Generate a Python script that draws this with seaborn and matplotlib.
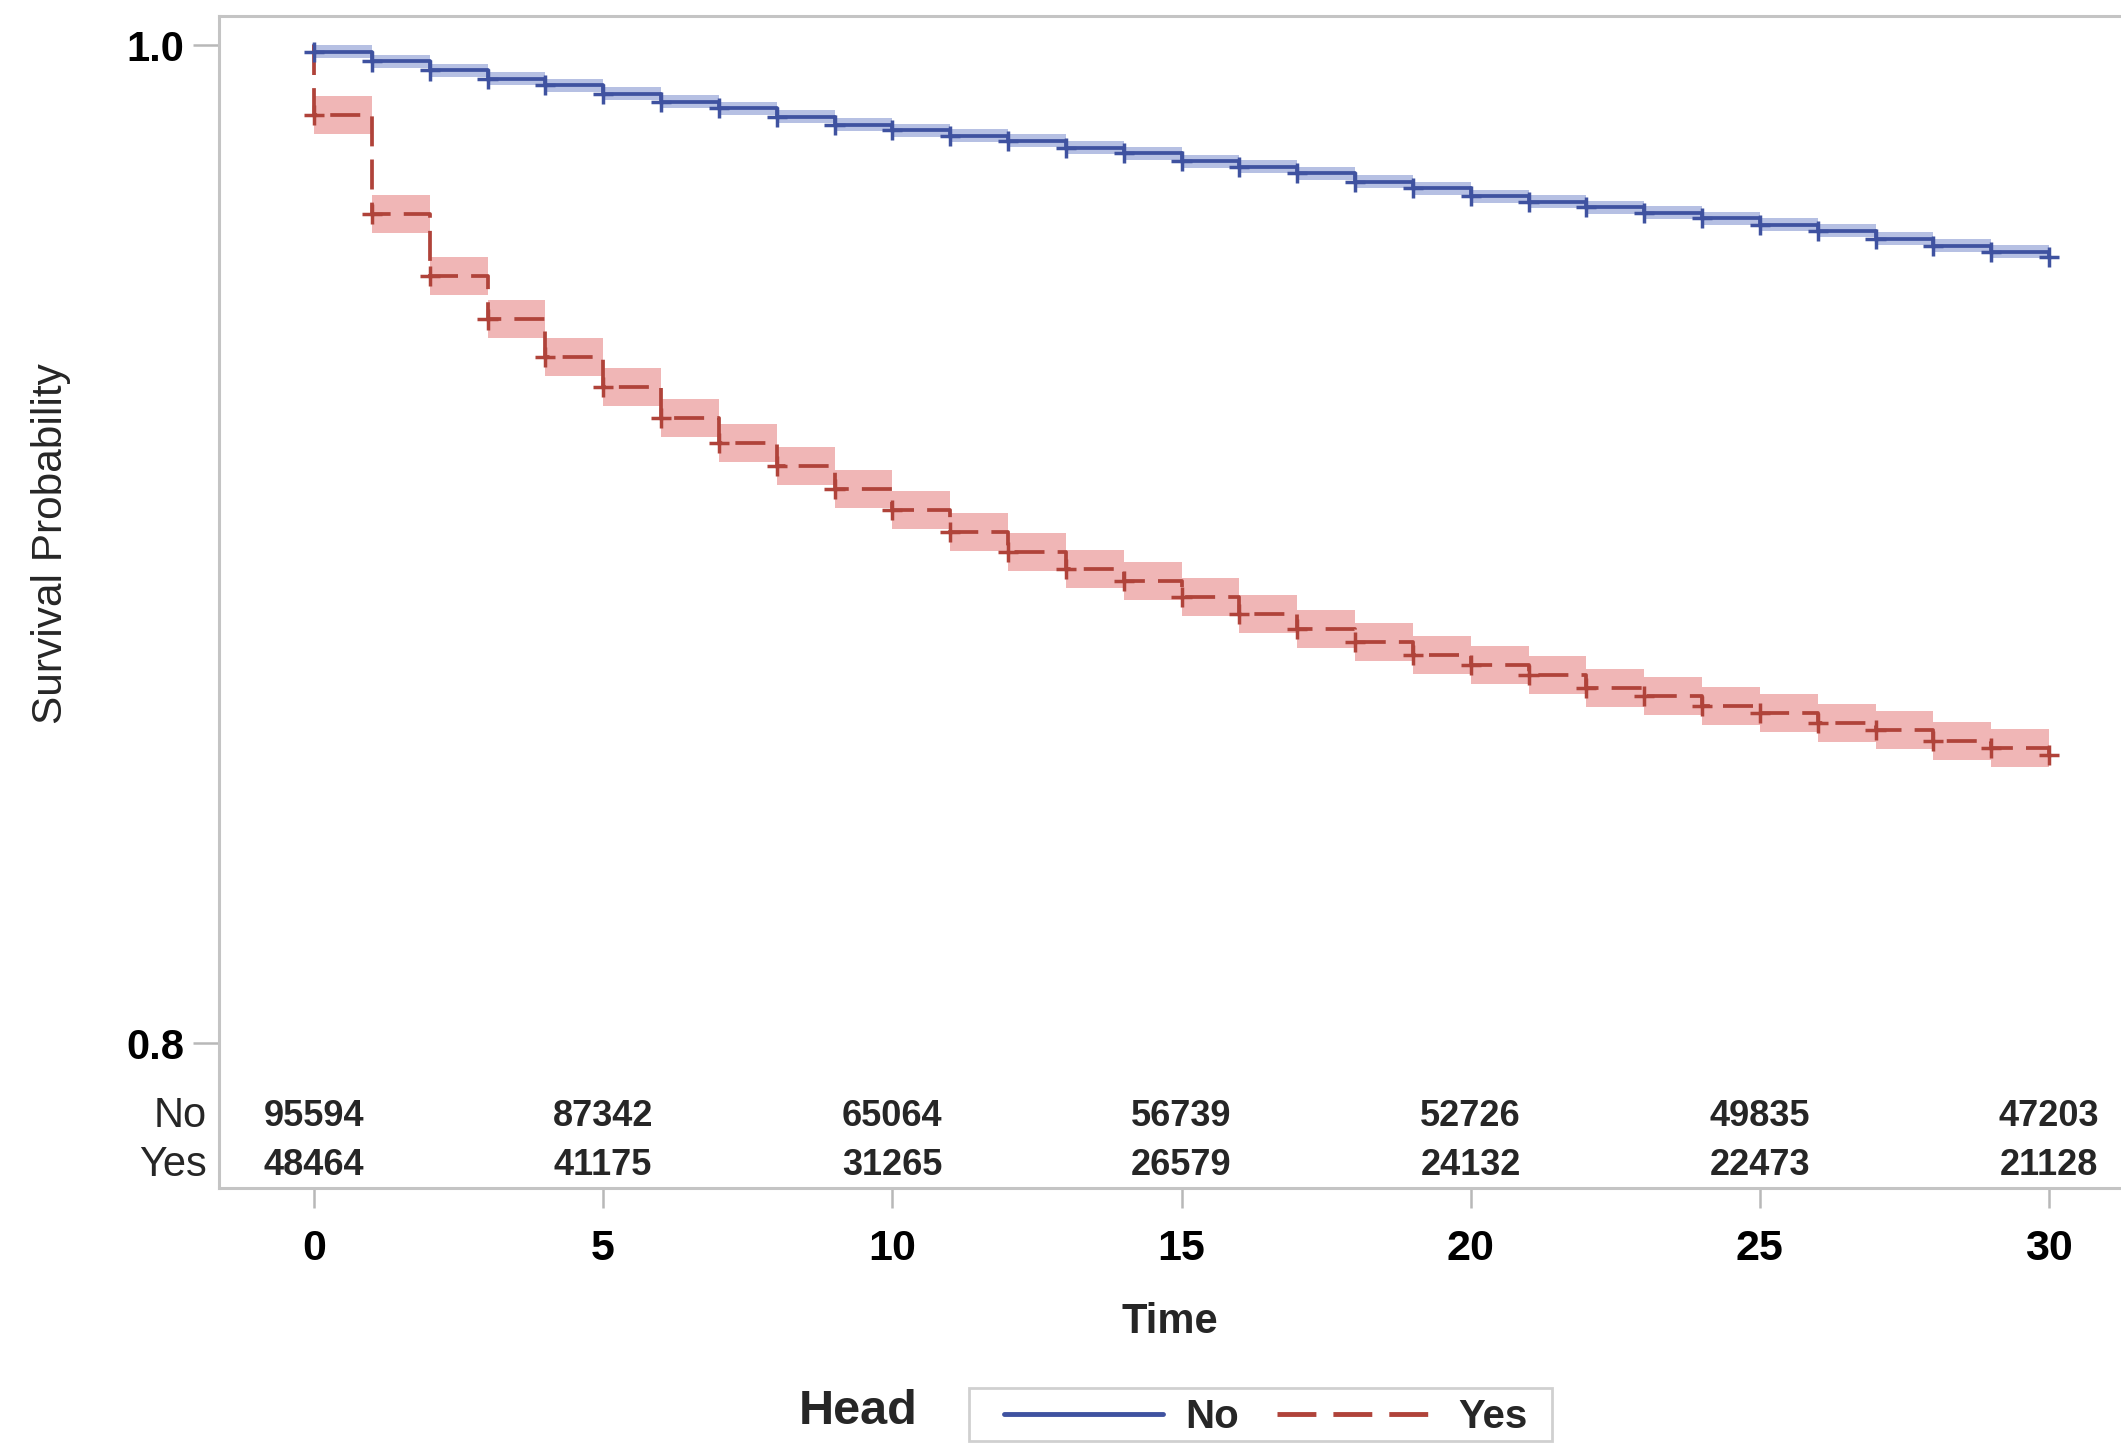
import numpy as np
import pandas as pd
import matplotlib
matplotlib.use("Agg")
import matplotlib.pyplot as plt
from matplotlib.patches import Rectangle
import seaborn as sns

# ---------------- data ----------------
times = list(range(0, 31))
surv_no = [0.9986, 0.9967, 0.9949, 0.9932, 0.9919, 0.9902, 0.9886, 0.9873, 0.9856, 0.9840,
           0.9829, 0.9818, 0.9808, 0.9794, 0.9783, 0.9767, 0.9756, 0.9743, 0.9726, 0.9713,
           0.9697, 0.9686, 0.9675, 0.9664, 0.9653, 0.9640, 0.9628, 0.9612, 0.9598, 0.9586,
           0.9576]
surv_yes = [0.9859, 0.9661, 0.9537, 0.9450, 0.9374, 0.9314, 0.9252, 0.9203, 0.9157, 0.9111,
            0.9068, 0.9024, 0.8984, 0.8950, 0.8926, 0.8893, 0.8859, 0.8830, 0.8803, 0.8778,
            0.8757, 0.8738, 0.8711, 0.8695, 0.8675, 0.8662, 0.8642, 0.8627, 0.8605, 0.8591,
            0.8578]
ci_half = {"No": 0.0013, "Yes": 0.0038}
groups = ["No", "Yes"]

risk_times = [0, 5, 10, 15, 20, 25, 30]
risk_no = [95594, 87342, 65064, 56739, 52726, 49835, 47203]
risk_yes = [48464, 41175, 31265, 26579, 24132, 22473, 21128]

# ---------------- style ----------------
sns.set_theme(style="white")
plt.rcParams['font.family'] = ['Liberation Sans', 'DejaVu Sans']

W, H = 2121, 1443
fig = plt.figure(figsize=(W / 100, H / 100), dpi=100)
ax_l, ax_r, ax_t, ax_b = 219, 2121, 16, 1188
ax = fig.add_axes([ax_l / W, 1 - ax_b / H, (ax_r - ax_l) / W, (ax_b - ax_t) / H])

line_col = {"No": "#3f52a0", "Yes": "#b0433a"}
band_col = {"No": "#aab5de", "Yes": "#eea9a9"}

surv = {"No": surv_no, "Yes": surv_yes}
frames = []
for g in groups:
    frames.append(pd.DataFrame({"Time": [0] + times, "Survival": [1.0] + surv[g], "Head": g}))
df = pd.concat(frames, ignore_index=True)

mk = pd.concat([pd.DataFrame({"Time": times, "Survival": surv[g], "Head": g}) for g in groups],
               ignore_index=True)

# confidence bands
for g in groups:
    s = np.array(surv[g])
    ax.fill_between(times, s - ci_half[g], s + ci_half[g], step="post",
                    color=band_col[g], alpha=0.85, linewidth=0, zorder=1)

sns.lineplot(data=df, x="Time", y="Survival", hue="Head", style="Head",
             palette=line_col, dashes={"No": "", "Yes": (8, 3.5)},
             drawstyle="steps-post", estimator=None, sort=False,
             linewidth=2.7, ax=ax, legend=True, zorder=3)

sns.scatterplot(data=mk, x="Time", y="Survival", hue="Head", palette=line_col,
                marker="+", s=210, linewidth=2.5, ax=ax, legend=False, zorder=4)

handles, labels = ax.get_legend_handles_labels()
hl = [(h, l) for h, l in zip(handles, labels) if l in groups]
if ax.get_legend() is not None:
    ax.get_legend().remove()

# axes
x_per = (2049 - 314) / 30.0
ax.set_xlim((ax_l - 314) / x_per, (ax_r - 314) / x_per)
y_per = (1043 - 45) / 0.2
ax.set_ylim(0.8 - (ax_b - 1043) / y_per, 1.0 + (45 - ax_t) / y_per)

ax.set_xticks(risk_times)
ax.set_xticklabels([str(t) for t in risk_times])
ax.set_yticks([0.8, 1.0])
ax.set_yticklabels(["0.8", "1.0"])
ax.tick_params(axis="x", bottom=True, length=14.5, width=1.8, color="#b8b8b8",
               pad=15, labelsize=31, labelcolor="black")
ax.tick_params(axis="y", left=True, length=18.5, width=1.8, color="#b8b8b8",
               pad=6.5, labelsize=30, labelcolor="black")
for lab in ax.get_xticklabels() + ax.get_yticklabels():
    lab.set_fontweight("bold")

for sp in ["left", "bottom", "top"]:
    ax.spines[sp].set_color("#c4c4c4")
    ax.spines[sp].set_linewidth(2.2)
ax.spines["right"].set_visible(False)

ax.set_xlabel("")
ax.set_ylabel("")
fig.text(1170 / W, 1 - 1322 / H, "Time", ha="center", va="center",
         fontsize=30, fontweight="bold")
fig.text(51 / W, 1 - 544 / H, "Survival Probability", ha="center", va="center",
         rotation=90, fontsize=30.5)

# number at risk
row_y = {"No": 0.8 - (1116 - 1043) / y_per, "Yes": 0.8 - (1165 - 1043) / y_per}
risk = {"No": risk_no, "Yes": risk_yes}
tr = ax.get_yaxis_transform()
for g in groups:
    for t, n in zip(risk_times, risk[g]):
        ax.text(t, row_y[g], str(n), ha="center", va="center", fontsize=26,
                fontweight="bold")
    ax.text((207 - ax_l) / (ax_r - ax_l), row_y[g], g, transform=tr, ha="right",
            va="center", fontsize=30, clip_on=False)

# legend
fig.text(858 / W, 1 - 1412 / H, "Head", ha="center", va="center", fontsize=35,
         fontweight="bold")
fig.patches.append(Rectangle((969 / W, 1 - 1441 / H), (1552 - 969) / W, (1441 - 1388) / H,
                             transform=fig.transFigure, facecolor="white",
                             edgecolor="#d0d0d0", linewidth=2, zorder=0))
leg = fig.legend([h for h, l in hl], [l for h, l in hl], loc="center left",
                 bbox_to_anchor=(1004 / W, 1 - 1417 / H), ncol=2,
                 prop={"size": 29, "weight": "bold"}, handlelength=3.95,
                 handletextpad=0.55, columnspacing=0.95, borderpad=0,
                 frameon=False, borderaxespad=0)
for h in leg.legend_handles:
    h.set_linewidth(3.5)

fig.savefig("out.png", dpi=100)
